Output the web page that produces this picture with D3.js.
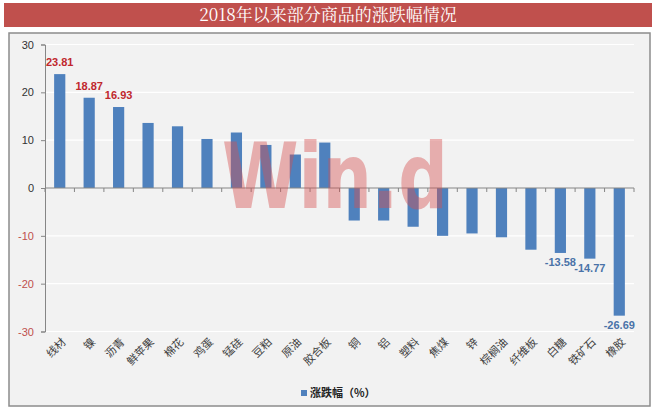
<!DOCTYPE html>
<html><head><meta charset="utf-8">
<script src="https://cdn.jsdelivr.net/npm/d3@7/dist/d3.min.js"></script>
<style>
body{margin:0;background:#fff;}
svg{display:block;}
</style></head>
<body><svg id="c" width="656" height="413"></svg>
<script>
const title = "2018年以来部分商品的涨跌幅情况";
const categories = ["线材","镍","沥青","鲜苹果","棉花","鸡蛋","锰硅","豆粕","原油","胶合板","铜","铝","塑料","焦煤","锌","棕榈油","纤维板","白糖","铁矿石","橡胶"];
const values = [23.81,18.87,16.93,13.6,12.9,10.25,11.6,9.0,7.0,9.5,-6.8,-6.8,-8.1,-10.0,-9.5,-10.3,-12.9,-13.58,-14.77,-26.69];
const labeled = ["线材","镍","沥青","白糖","铁矿石","橡胶"];
const yTicks = [-30,-20,-10,0,10,20,30];
const seriesName = "涨跌幅（%）";

const svg = d3.select("#c");
const font = "'Noto Sans CJK SC','Noto Sans',sans-serif";

// title bar
svg.append("rect").attr("x",4).attr("y",3).attr("width",648).attr("height",24).attr("fill","#c0504d");
svg.append("text").attr("x",328).attr("y",21).attr("text-anchor","middle")
  .attr("fill","#fff").attr("font-size",17).attr("font-family","'Noto Serif CJK SC','Noto Sans CJK SC',serif").text(title);

// chart frame
svg.append("rect").attr("x",9).attr("y",33).attr("width",641).attr("height",373)
  .attr("fill","#f2f2f2").attr("stroke","#8c8c8c").attr("stroke-width",1.5);

const x = d3.scaleBand().domain(categories).range([45,634]).paddingInner(0.62).paddingOuter(0.31);
const y = d3.scaleLinear().domain([-30,30]).range([331.5,44.5]);

// gridlines
svg.append("g").selectAll("line").data(yTicks.filter(d=>d!==0)).join("line")
  .attr("x1",45).attr("x2",634).attr("y1",d=>y(d)).attr("y2",d=>y(d))
  .attr("stroke","#ffffff").attr("stroke-width",1.2);

// bars
svg.append("g").selectAll("rect").data(categories).join("rect")
  .attr("x",d=>x(d)).attr("width",x.bandwidth())
  .attr("y",(d,i)=>y(Math.max(0,values[i])))
  .attr("height",(d,i)=>Math.abs(y(values[i])-y(0)))
  .attr("fill","#4f81bd");

// y axis
const yAxis = d3.axisLeft(y).tickValues(yTicks).tickSize(4).tickPadding(7).tickFormat(d=>String(d));
const ga = svg.append("g").attr("transform","translate(45,0)").call(yAxis);
ga.select(".domain").attr("stroke","#868686");
ga.selectAll(".tick line").attr("stroke","#868686");
ga.selectAll(".tick text").attr("font-family","'Liberation Sans','DejaVu Sans',sans-serif").attr("font-size",11)
  .attr("fill",d=>d<0?"#c0504d":"#333");

// x axis at zero
const xg = svg.append("g");
xg.append("line").attr("x1",45).attr("x2",634).attr("y1",y(0)).attr("y2",y(0)).attr("stroke","#868686");
const bounds = d3.range(categories.length+1).map(i=>45+i*(589/categories.length));
xg.selectAll("line.t").data(bounds).join("line").attr("class","t")
  .attr("x1",d=>d).attr("x2",d=>d).attr("y1",y(0)).attr("y2",y(0)+4).attr("stroke","#868686");

// category labels rotated
svg.append("g").selectAll("text").data(categories).join("text")
  .attr("transform",d=>`translate(${x(d)+x.bandwidth()/2+4},${340}) rotate(-45)`)
  .attr("text-anchor","end").attr("dy","0.35em")
  .attr("font-size",11).attr("font-family",font).attr("fill","#404040").text(d=>d);

// data labels
svg.append("g").selectAll("text").data(categories.filter(c=>labeled.includes(c))).join("text")
  .attr("x",d=>x(d)+x.bandwidth()/2)
  .attr("y",d=>{const v=values[categories.indexOf(d)]; return v>=0? y(v)-8 : y(v)+13;})
  .attr("text-anchor","middle").attr("font-weight","bold").attr("font-size",11)
  .attr("font-family","'Liberation Sans','DejaVu Sans',sans-serif")
  .attr("fill",d=>values[categories.indexOf(d)]>=0?"#c0282d":"#4a72a8")
  .text(d=>values[categories.indexOf(d)].toFixed(2));

// watermark
svg.append("text").attr("x",222).attr("y",208).attr("textLength",226).attr("lengthAdjust","spacingAndGlyphs")
  .attr("font-family","'DejaVu Sans',sans-serif").attr("font-weight","bold").attr("font-size",90)
  .attr("fill","#d65050").attr("opacity",0.42).text("Win.d");

// legend
const lg = svg.append("g");
lg.append("rect").attr("x",301).attr("y",390).attr("width",6).attr("height",6).attr("fill","#4f81bd");
lg.append("text").attr("x",310).attr("y",397).attr("font-size",11).attr("font-weight","bold")
  .attr("font-family",font).attr("fill","#222").text(seriesName);
</script></body></html>
